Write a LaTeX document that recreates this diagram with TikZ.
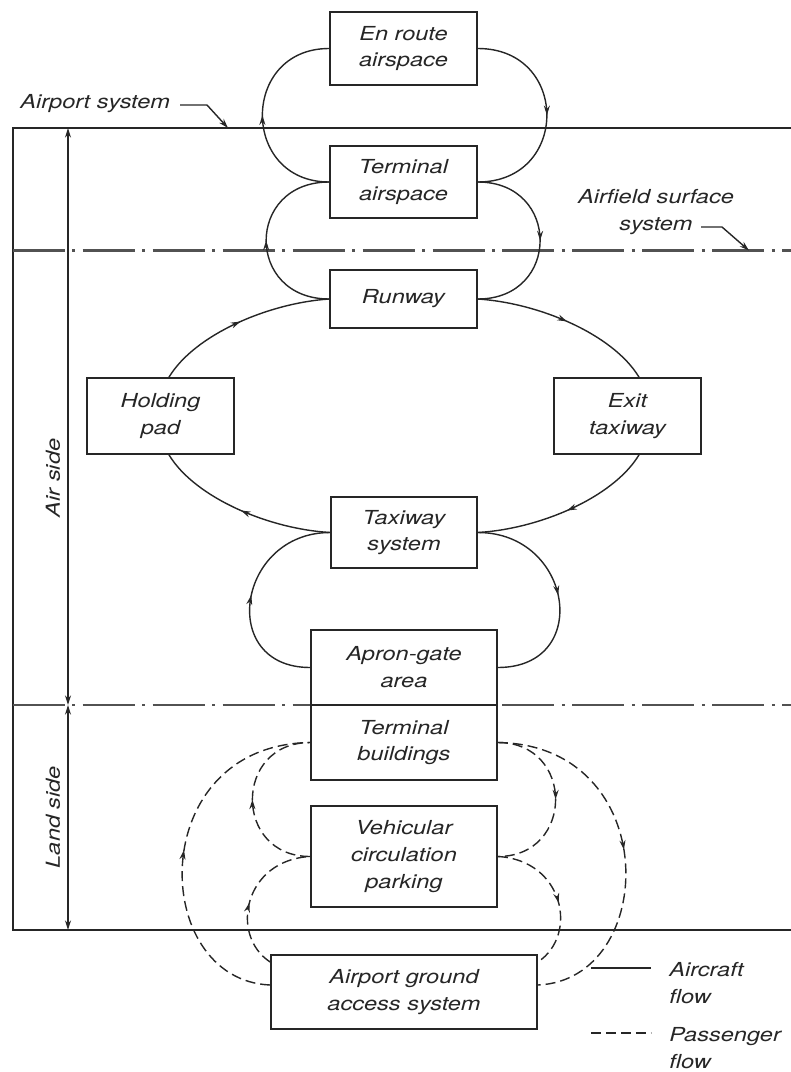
\documentclass[tikz,border=0pt]{standalone}
\usepackage{fontspec}
\setmainfont{TeX Gyre Heros}[FakeStretch=1.22]
\usetikzlibrary{arrows.meta,decorations.markings}
\newcommand\lblfont{\itshape\fontsize{11}{15.3}\selectfont}
\definecolor{ink}{gray}{0.15}
\tikzset{
  box/.style={draw=ink, line width=1pt, inner sep=0pt, align=center, font=\lblfont, text=ink, fill=white},
  lbl/.style={inner sep=0pt, align=center, font=\lblfont, text=ink},
  frame/.style={draw=ink, line width=1.1pt},
  dashdot/.style={draw=ink!80, line width=1.2pt, dash pattern=on 1.04cm off 0.15cm on 0.06cm off 0.15cm},
  flow/.style={draw=ink, line width=0.8pt},
  pflow/.style={draw=ink, line width=0.8pt, dash pattern=on 0.2cm off 0.1cm},
  midarrow/.style={postaction={decorate,decoration={markings,
      mark=at position #1 with {\arrow[ink]{Stealth[length=5.5pt,width=3.4pt]}}}}},
  midarrow/.default=0.5,
  tipped/.style={draw=ink, line width=0.8pt, -{Stealth[length=5.5pt,width=3.4pt]}},
  dimarrow/.style={draw=ink, line width=0.8pt, {Stealth[length=5.5pt,width=3.4pt]}-{Stealth[length=5.5pt,width=3.4pt]}},
}
\begin{document}
\begin{tikzpicture}[x=0.02cm,y=-0.02cm]
\useasboundingbox (0,0) rectangle (791,1072);

% frame and zone lines
\coordinate (frTR) at (791,128);
\coordinate (frTL) at (12.6,128);
\coordinate (frBL) at (12.6,930);
\coordinate (frBR) at (791,930);
\draw[frame] (frTR) -- (frTL) -- (frBL) -- (frBR);
\coordinate (dd1a) at (12.6,250.5);
\coordinate (dd1b) at (791,250.5);
\coordinate (dd2a) at (12.6,705);
\coordinate (dd2b) at (791,705);
\draw[dashdot] (dd1a) -- (dd1b);
\draw[dashdot] (dd2a) -- (dd2b);

% boxes
\node[box, minimum width=2.94cm, minimum height=1.46cm] (enroute) at (403.5,48.5) {En route\\airspace};
\node[box, minimum width=2.94cm, minimum height=1.44cm] (termair) at (403.5,182) {Terminal\\airspace};
\node[box, minimum width=2.94cm, minimum height=1.16cm] (runway) at (403.5,299) {Runway};
\node[box, minimum width=2.94cm, minimum height=1.52cm] (holding) at (160.5,416) {Holding\\pad};
\node[box, minimum width=2.94cm, minimum height=1.52cm] (exit) at (627.5,416) {Exit\\taxiway};
\node[box, minimum width=2.92cm, minimum height=1.42cm] (taxiway) at (404,532.5) {Taxiway\\system};
\node[box, minimum width=3.72cm, minimum height=1.5cm] (apron) at (404,667.5) {Apron-gate\\area};
\node[box, minimum width=3.72cm, minimum height=1.5cm] (termbld) at (404,742.5) {Terminal\\buildings};
\node[box, minimum width=3.72cm, minimum height=2.02cm] (vehic) at (404,856.5) {Vehicular\\circulation\\parking};
\node[box, minimum width=5.32cm, minimum height=1.48cm] (ground) at (404,992) {Airport ground\\access system};

% aircraft flows
\draw[flow,midarrow] (termair.west) .. controls +(-89,0) and +(-89,0) .. (enroute.west);
\draw[flow,midarrow] (enroute.east) .. controls +(92,0) and +(92,0) .. (termair.east);
\draw[flow,midarrow] (runway.west) .. controls +(-84,0) and +(-84,0) .. (termair.west);
\draw[flow,midarrow] (termair.east) .. controls +(83,0) and +(83,0) .. (runway.east);
\draw[flow,midarrow] ([xshift=0.17cm]holding.north) .. controls +(26,-43) and +(-60,4) .. (runway.west);
\draw[flow,midarrow] (runway.east) .. controls +(61,4) and +(-26,-43) .. ([xshift=0.23cm]exit.north);
\draw[flow,midarrow] ([xshift=0.23cm]exit.south) .. controls +(-26,43) and +(61,-3.5) .. (taxiway.east);
\draw[flow,midarrow] (taxiway.west) .. controls +(-61,-3.5) and +(26,43) .. ([xshift=0.17cm]holding.south);
\draw[flow,midarrow] (apron.west) .. controls +(-93,0) and +(-93,0) .. (taxiway.west);
\draw[flow,midarrow] (taxiway.east) .. controls +(95,0) and +(95,0) .. (apron.east);

% passenger flows
\draw[pflow,midarrow] (vehic.west) .. controls +(-77,0) and +(-77,0) .. (termbld.west);
\draw[pflow,midarrow] (termbld.east) .. controls +(77,0) and +(77,0) .. (vehic.east);
\draw[pflow,midarrow=0.45] ([yshift=0.6cm]ground.west) .. controls +(-41,-27) and +(-66,3.5) .. (vehic.west);
\draw[pflow,midarrow=0.55] (vehic.east) .. controls +(66,3.5) and +(41,-27) .. ([yshift=0.6cm]ground.east);
\draw[pflow,midarrow] ([yshift=0.14cm]ground.west) .. controls +(-121,-5) and +(-166,2.5) .. (termbld.west);
\draw[pflow,midarrow] (termbld.east) .. controls +(166,2.5) and +(121,-5) .. ([yshift=0.14cm]ground.east);

% labels with leaders
\node[lbl, anchor=west] (apsys) at (20,104) {Airport system};
\coordinate (apstart) at (180,105);
\coordinate (apbend) at (207,105);
\coordinate (aptip) at (228,128);
\draw[tipped] (apstart) -- (apbend) -- (aptip);

\node[lbl] (afsys) at (656,212) {Airfield surface\\system};
\coordinate (afstart) at (701,227);
\coordinate (afbend) at (722,227);
\coordinate (aftip) at (749,250.5);
\draw[tipped] (afstart) -- (afbend) -- (aftip);

% side dimensions
\coordinate (asTop) at (68,128);
\coordinate (asBot) at (68,705);
\coordinate (lsBot) at (68,930);
\draw[dimarrow] (asTop) -- (asBot);
\draw[dimarrow] (asBot) -- (lsBot);
\node[lbl, rotate=90] (airside) at (53,478) {Air side};
\node[lbl, rotate=90] (landside) at (53,817) {Land side};

% legend
\coordinate (lga) at (591,968);
\coordinate (lgb) at (651,968);
\coordinate (lgc) at (591,1033);
\coordinate (lgd) at (651,1033);
\draw[flow] (lga) -- (lgb);
\draw[pflow] (lgc) -- (lgd);
\node[lbl, anchor=west, align=left] (lgair) at (669,983) {Aircraft\\flow};
\node[lbl, anchor=west, align=left] (lgpas) at (669,1048) {Passenger\\flow};
\end{tikzpicture}
\end{document}
